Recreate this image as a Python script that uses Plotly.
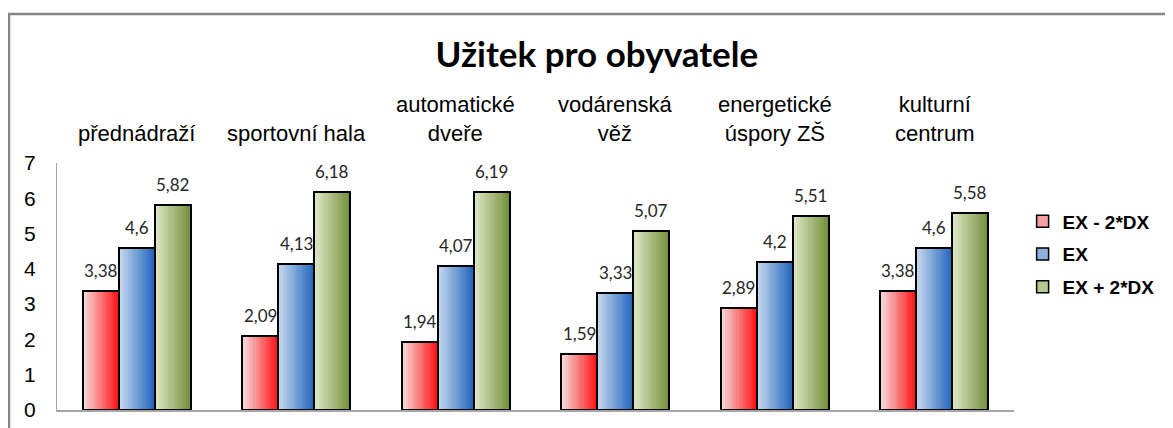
import plotly.graph_objects as go

categories = ["přednádraží", "sportovní hala", "automatické<br>dveře", "vodárenská<br>věž", "energetické<br>úspory ZŠ", "kulturní<br>centrum"]
series_names = ["EX - 2*DX", "EX", "EX + 2*DX"]
low_vals = [3.38, 2.09, 1.94, 1.59, 2.89, 3.38]
ex_vals = [4.6, 4.13, 4.07, 3.33, 4.2, 4.6]
high_vals = [5.82, 6.18, 6.19, 5.07, 5.51, 5.58]
value_labels_low = ["3,38", "2,09", "1,94", "1,59", "2,89", "3,38"]
value_labels_ex = ["4,6", "4,13", "4,07", "3,33", "4,2", "4,6"]
value_labels_high = ["5,82", "6,18", "6,19", "5,07", "5,51", "5,58"]

series_vals = [low_vals, ex_vals, high_vals]
series_labels = [value_labels_low, value_labels_ex, value_labels_high]
grad_start = [(245, 218, 218), (198, 216, 238), (221, 231, 198)]
grad_end = [(255, 22, 22), (36, 104, 190), (118, 146, 60)]
legend_cols = ["#F4A0A0", "#8FB0DC", "#B5C98C"]

W = 0.2257  # bar width (category units)
N = 16      # gradient slices

def mix(a, b, t):
    return "rgb(%d,%d,%d)" % tuple(round(a[i] + (b[i] - a[i]) * t) for i in range(3))

fig = go.Figure()
idx = list(range(len(categories)))

for s, vals in enumerate(series_vals):
    off = (s - 1) * W
    xs, ys, cols = [], [], []
    for i, v in zip(idx, vals):
        for k in range(N):
            xs.append(i + off - W / 2 + (k + 0.5) * W / N)
            ys.append(v)
            cols.append(mix(grad_start[s], grad_end[s], k / (N - 1)))
    fig.add_trace(go.Bar(x=xs, y=ys, width=[W / N * 1.04] * len(xs),
                         marker=dict(color=cols, line=dict(width=0)),
                         showlegend=False, hoverinfo="skip"))

for s, vals in enumerate(series_vals):
    off = (s - 1) * W
    fig.add_trace(go.Bar(x=[i + off for i in idx], y=vals, width=[W] * len(idx),
                         marker=dict(color="rgba(0,0,0,0)", line=dict(color="black", width=2)),
                         showlegend=False, name=series_names[s]))

for s in range(3):
    fig.add_trace(go.Bar(x=[None], y=[None], name=series_names[s], legendgroup=series_names[s],
                         marker=dict(color=legend_cols[s], line=dict(color="black", width=1.5))))

annotations = []
for s, vals in enumerate(series_vals):
    off = (s - 1) * W
    for i, v, lab in zip(idx, vals, series_labels[s]):
        annotations.append(dict(x=i + off, y=v, xref="x", yref="y", text=lab, showarrow=False,
                                yanchor="bottom", yshift=8,
                                font=dict(family="Lato, sans-serif", size=17, color="#262626")))
for i, c in zip(idx, categories):
    annotations.append(dict(x=i, y=1, xref="x", yref="paper", text=c, showarrow=False,
                            yanchor="bottom", yshift=15,
                            font=dict(family="Liberation Sans, Arial, sans-serif", size=22, color="black")))

fig.update_layout(
    width=1173, height=428,
    margin=dict(l=49, r=167, t=155, b=26),
    paper_bgcolor="white", plot_bgcolor="white",
    barmode="overlay", bargap=0,
    title=dict(text="<b>Užitek pro obyvatele</b>", x=0.502, xanchor="center", y=0.890, yanchor="middle",
               font=dict(family="Lato, sans-serif", size=35, color="black")),
    xaxis=dict(range=[-0.5, 5.5], showticklabels=False, showgrid=False, zeroline=False,
               showline=True, linecolor="#A6A6A6", linewidth=2, ticks=""),
    yaxis=dict(range=[0, 7], dtick=1, showgrid=False, zeroline=False, showline=True,
               linecolor="#A6A6A6", linewidth=1, ticks="", ticklabelstandoff=16,
               tickfont=dict(family="Liberation Sans, Arial, sans-serif", size=21, color="black")),
    legend=dict(x=1.009, xanchor="left", y=0.84, yanchor="top", traceorder="grouped",
                tracegroupgap=5, bgcolor="rgba(0,0,0,0)",
                font=dict(family="Liberation Sans, Arial, sans-serif", size=19, color="black", weight="bold")),
    annotations=annotations,
    shapes=[dict(type="rect", xref="paper", yref="paper", x0=-0.0502, x1=2, y0=-1, y1=1.603,
                 line=dict(color="#868686", width=2.5), fillcolor="rgba(0,0,0,0)")],
)

fig.write_html("out.html")
